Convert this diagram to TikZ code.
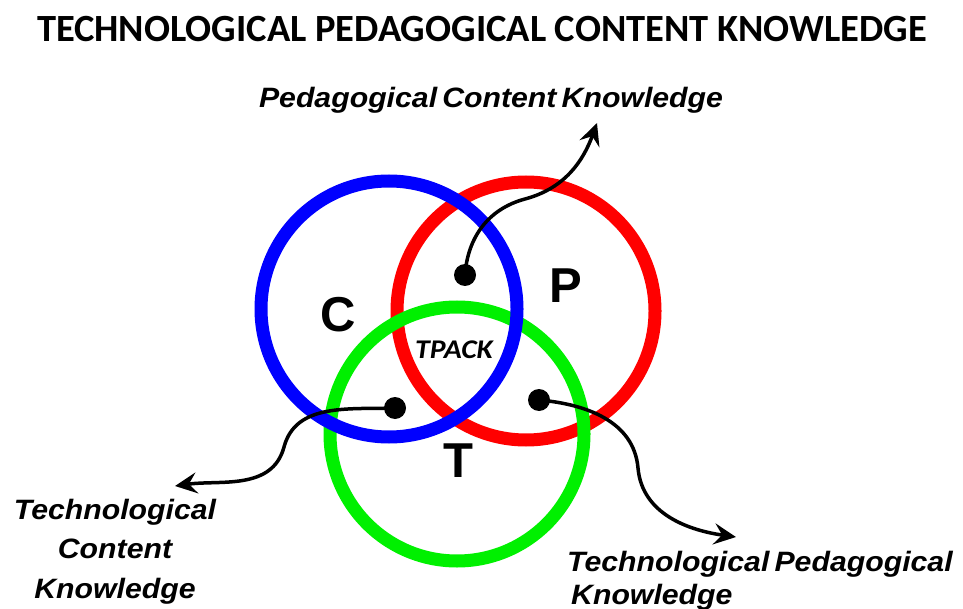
\documentclass[tikz,border=0pt]{standalone}
\usepackage{fontspec}
\setmainfont{Liberation Sans}
\newfontfamily\carlito{Carlito}
\usetikzlibrary{arrows.meta}
\definecolor{cblue}{RGB}{0,0,255}
\definecolor{cred}{RGB}{255,0,0}
\definecolor{cgreen}{RGB}{0,240,0}
\newcommand{\wideit}[1]{\scalebox{1.08}[1]{#1}}
\tikzset{
  ring/.style={line width=13pt},
  dotmark/.style={circle, fill=black, inner sep=0pt, minimum size=22pt},
  conn/.style={line width=3.5pt, -{Stealth[length=22pt,width=21pt,inset=8pt]}},
  lbl/.style={inner sep=0pt, anchor=base, font=\fontsize{28}{34}\selectfont\bfseries\itshape},
  lblleft/.style={lbl, anchor=base west},
  letter/.style={inner sep=0pt, anchor=base, font=\fontsize{49}{56}\selectfont\bfseries},
  titlestyle/.style={inner sep=0pt, anchor=base, font=\carlito\fontsize{38.5}{44}\selectfont\bfseries},
  tpackstyle/.style={inner sep=0pt, anchor=base, font=\carlito\fontsize{27}{32}\selectfont\bfseries\itshape}
}
\begin{document}
\begin{tikzpicture}[x=1pt,y=1pt]
\useasboundingbox (0,0) rectangle (963,-609);
% title
\node[titlestyle] (title) at (482,-42) {TECHNOLOGICAL PEDAGOGICAL CONTENT KNOWLEDGE};
% circles
\draw[ring, cred] (526,-311) circle (129);
\draw[ring, cgreen] (457,-434) circle (127);
\draw[ring, cblue] (389,-309) circle (128);
% letters
\node[letter] (C) at (338,-331) {C};
\node[letter] (P) at (566,-303) {P};
\node[letter] (T) at (458,-477) {T};
\node[tpackstyle] (tpack) at (454,-358) {\scalebox{1.1}[1]{TPACK}};
% labels
\node[lbl] (pck) at (491,-108) {\wideit{Pedagogical\hspace{-3pt} Content\hspace{-3pt} Knowledge}};
\node[lbl] (tck1) at (115,-519) {\wideit{Technological}};
\node[lbl] (tck2) at (115,-558) {\wideit{Content}};
\node[lbl] (tck3) at (115,-598) {\wideit{Knowledge}};
\node[lblleft] (tpk1) at (567,-571) {\wideit{Technological\hspace{-3pt} Pedagogical}};
\node[lblleft] (tpk2) at (571,-604) {\wideit{Knowledge}};
% dots
\node[dotmark] (d1) at (465,-275) {};
\node[dotmark] (d2) at (395,-408) {};
\node[dotmark] (d3) at (539,-400) {};
% connector ends
\coordinate (m1) at (525,-199);
\coordinate (pcktip) at (597,-123);
\coordinate (m2) at (284,-447);
\coordinate (tcktip) at (175,-486);
\coordinate (m3) at (638,-468);
\coordinate (tpktip) at (736,-537);
% connectors
\draw[conn] (d1.center) to[out=86,in=195] (m1) to[out=15,in=250] (pcktip);
\draw[conn] (d2.center) to[out=182,in=75] (m2) to[out=255,in=8] (tcktip);
\draw[conn] (d3.center) to[out=-5,in=95] (m3) to[out=275,in=172] (tpktip);
\end{tikzpicture}
\end{document}
